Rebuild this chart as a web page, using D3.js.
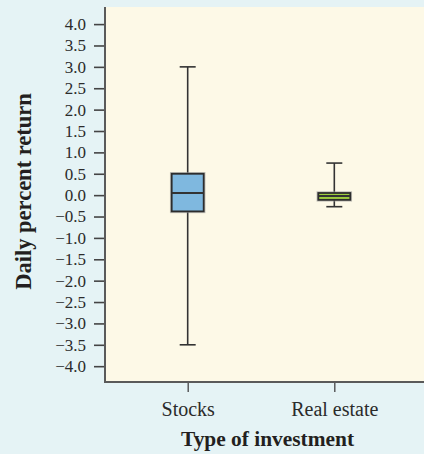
<!DOCTYPE html>
<html><head><meta charset="utf-8">
<script src="https://cdn.jsdelivr.net/npm/d3@7"></script>
<style>
html,body{margin:0;padding:0;background:#e5f3f5;}
svg{display:block;}
</style></head>
<body>
<svg id="chart" width="424" height="454"></svg>
<script>
const categories = ["Stocks", "Real estate"];
const whiskerLow = [-3.5, -0.27];
const q1 = [-0.38, -0.11];
const median = [0.05, -0.02];
const q3 = [0.5, 0.05];
const whiskerHigh = [3.0, 0.75];
const boxColors = ["#7fb8df", "#9dcc3e"];
const yTickValues = [4.0, 3.5, 3.0, 2.5, 2.0, 1.5, 1.0, 0.5, 0.0, -0.5, -1.0, -1.5, -2.0, -2.5, -3.0, -3.5, -4.0];
const yTickLabels = ["4.0","3.5","3.0","2.5","2.0","1.5","1.0","0.5","0.0","\u22120.5","\u22121.0","\u22121.5","\u22122.0","\u22122.5","\u22123.0","\u22123.5","\u22124.0"];

const svg = d3.select("#chart");
const W = 424, H = 454;
const plot = {left: 105, right: 424, top: 7, bottom: 382};
const serif = "Liberation Serif, Times New Roman, serif";

svg.append("rect").attr("width", W).attr("height", H).attr("fill", "#e5f3f5");
svg.append("rect").attr("x", plot.left).attr("y", plot.top)
  .attr("width", plot.right - plot.left).attr("height", plot.bottom - plot.top)
  .attr("fill", "#fdf9e7");

const y = d3.scaleLinear().domain([-4.37, 4.4]).range([plot.bottom, plot.top]);
const x = d3.scalePoint().domain(categories).range([plot.left, 417]).padding(0.564);

// Y axis
const yAxis = d3.axisLeft(y).tickValues(yTickValues)
  .tickFormat((d, i) => yTickLabels[i]).tickSize(11).tickPadding(8);
const gy = svg.append("g").attr("transform", `translate(${plot.left},0)`).call(yAxis)
  .attr("font-family", serif).attr("font-size", 17);
gy.select(".domain").remove();
gy.selectAll(".tick line").attr("stroke", "#444").attr("stroke-width", 1.6);
gy.selectAll(".tick text").style("font-family", serif).style("font-size", "17px").attr("fill", "#2b2b2b");
svg.append("line").attr("x1", plot.left).attr("x2", plot.left).attr("y1", plot.top).attr("y2", plot.bottom + 1)
  .attr("stroke", "#5a5a5a").attr("stroke-width", 2);

// X axis
const xAxis = d3.axisBottom(x).tickSize(10).tickPadding(10);
const gx = svg.append("g").attr("transform", `translate(0,${plot.bottom})`).call(xAxis)
  .attr("font-family", serif).attr("font-size", 20);
gx.select(".domain").remove();
gx.selectAll(".tick line").attr("stroke", "#444").attr("stroke-width", 1.3);
gx.selectAll(".tick text").style("font-family", serif).style("font-size", "20px").attr("fill", "#2b2b2b")
  .attr("dy", null).attr("y", 34);
svg.append("line").attr("x1", plot.left - 1).attr("x2", plot.right).attr("y1", plot.bottom).attr("y2", plot.bottom)
  .attr("stroke", "#5a5a5a").attr("stroke-width", 2);

// Boxes
const boxW = 32, capW = 16;
categories.forEach((c, i) => {
  const cx = x(c);
  const g = svg.append("g");
  g.append("line").attr("x1", cx).attr("x2", cx).attr("y1", y(whiskerHigh[i])).attr("y2", y(q3[i]))
    .attr("stroke", "#333").attr("stroke-width", 1.6);
  g.append("line").attr("x1", cx).attr("x2", cx).attr("y1", y(q1[i])).attr("y2", y(whiskerLow[i]))
    .attr("stroke", "#333").attr("stroke-width", 1.6);
  g.append("line").attr("x1", cx - capW/2).attr("x2", cx + capW/2).attr("y1", y(whiskerHigh[i])).attr("y2", y(whiskerHigh[i]))
    .attr("stroke", "#333").attr("stroke-width", 1.6);
  g.append("line").attr("x1", cx - capW/2).attr("x2", cx + capW/2).attr("y1", y(whiskerLow[i])).attr("y2", y(whiskerLow[i]))
    .attr("stroke", "#333").attr("stroke-width", 1.6);
  g.append("rect").attr("x", cx - boxW/2).attr("y", y(q3[i]))
    .attr("width", boxW).attr("height", y(q1[i]) - y(q3[i]))
    .attr("fill", "none").attr("stroke", "#999").attr("stroke-width", 3.5).attr("opacity", 0.6);
  g.append("rect").attr("x", cx - boxW/2).attr("y", y(q3[i]))
    .attr("width", boxW).attr("height", y(q1[i]) - y(q3[i]))
    .attr("fill", boxColors[i]).attr("stroke", "#2d2d2d").attr("stroke-width", 1.8);
  g.append("line").attr("x1", cx - boxW/2).attr("x2", cx + boxW/2).attr("y1", y(median[i])).attr("y2", y(median[i]))
    .attr("stroke", "#333").attr("stroke-width", 2.2);
});

// Titles
svg.append("text").attr("transform", `translate(31,191.5) rotate(-90)`)
  .attr("text-anchor", "middle").style("font-family", serif).attr("font-weight", "bold")
  .attr("font-size", 22.5).attr("fill", "#231f20").text("Daily percent return");
svg.append("text").attr("x", 267.5).attr("y", 446)
  .attr("text-anchor", "middle").style("font-family", serif).attr("font-weight", "bold")
  .attr("font-size", 21.4).attr("fill", "#231f20").text("Type of investment");
</script>
</body></html>
